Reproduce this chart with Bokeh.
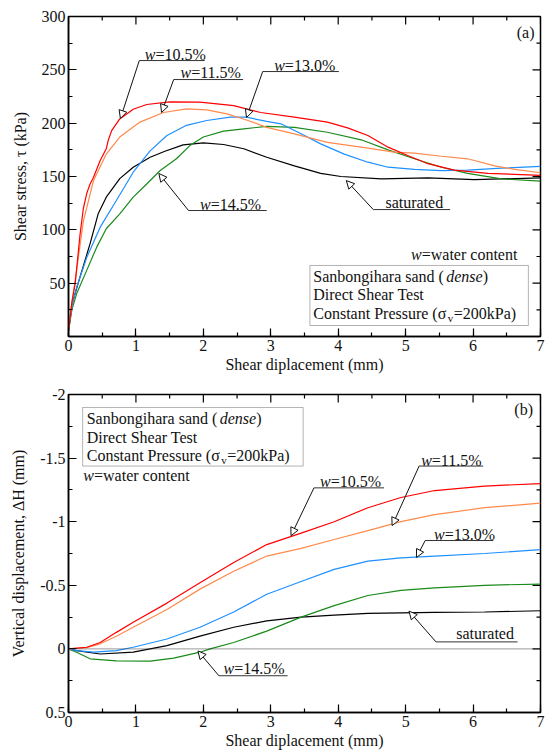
import numpy as np
from bokeh.plotting import figure
from bokeh.models import (Range1d, SingleIntervalTicker, CustomJSTickFormatter,
                          Label, Arrow, NormalHead, BoxAnnotation, Span)
from bokeh.layouts import column
from bokeh.embed import file_html
from bokeh.resources import INLINE

FONT = "Liberation Serif"
FS = "16px"

# ---------------- data: (a) shear stress vs shear displacement ----------------
a_x_105 = [0, 0.05, 0.10, 0.17, 0.22, 0.27, 0.32, 0.37, 0.47, 0.56, 0.59, 0.64, 0.76, 0.96, 1.16, 1.5,
           1.95, 2.45, 2.85, 3.35, 3.84, 4.14, 4.44, 4.74, 5.03, 5.33, 5.72, 6.22, 7.0]
a_y_105 = [5, 32, 50, 95, 120, 134, 143, 149, 165, 176, 184, 193, 204, 213, 217.5, 220,
           219.7, 216.5, 210, 205.6, 201, 195.6, 188.4, 177.5, 169.7, 162, 156, 153, 151]

a_x_115 = [0, 0.05, 0.12, 0.22, 0.37, 0.56, 0.76, 1.06, 1.41, 1.75, 2.05, 2.35, 2.64, 2.94, 3.35,
           3.84, 4.34, 4.83, 5.13, 5.53, 5.92, 6.32, 6.62, 7.0]
a_y_115 = [5, 32, 62, 108, 146, 171, 187, 201, 210, 213.4, 212.5, 208.7, 203, 196, 190,
           182, 177.5, 172.8, 172, 169, 166.6, 160, 156.6, 153.5]

a_x_130 = [0, 0.05, 0.12, 0.27, 0.47, 0.71, 0.96, 1.21, 1.46, 1.75, 2.05, 2.4, 2.64, 2.94, 3.15,
           3.45, 3.74, 4.09, 4.44, 4.74, 5.13, 5.53, 5.92, 6.42, 7.0]
a_y_130 = [5, 28, 46, 74, 102.5, 127.5, 154, 174, 188.4, 198, 202.5, 205.6, 205.6, 201.6, 199.4,
           190, 180.6, 171, 163.4, 158.7, 156.6, 155.6, 156, 157.8, 159.4]

a_x_145 = [0, 0.05, 0.12, 0.27, 0.42, 0.56, 0.76, 0.96, 1.16, 1.36, 1.6, 1.8, 2.0, 2.3, 2.6, 2.94,
           3.35, 3.84, 4.34, 4.74, 5.13, 5.53, 5.92, 6.42, 7.0]
a_y_145 = [5, 25, 40, 62, 84, 101, 115, 130.6, 143, 155.6, 166.6, 179, 187, 192.5, 194.7, 197,
           196, 191.5, 184.4, 175, 166.6, 158.7, 153, 147.8, 145.6]

a_x_sat = [0, 0.05, 0.17, 0.32, 0.44, 0.56, 0.76, 0.96, 1.21, 1.43, 1.7, 2.0, 2.3, 2.6, 2.94,
           3.35, 3.74, 4.04, 4.64, 5.33, 6.02, 7.0]
a_y_sat = [5, 30, 55.6, 87, 115, 130.6, 148, 158.7, 168, 173.7, 179.7, 181.6, 180, 176, 168,
           160, 153, 150, 147.8, 148.7, 147, 148.7]

# ---------------- data: (b) vertical displacement vs shear displacement ----------------
b_x_105 = [0, 0.27, 0.47, 0.71, 0.96, 1.46, 1.95, 2.45, 2.94, 3.45, 3.94, 4.44, 4.93, 5.43, 6.17, 7.0]
b_y_105 = [0, -0.013, -0.05, -0.13, -0.21, -0.36, -0.52, -0.68, -0.82, -0.91, -1.0, -1.11, -1.19,
           -1.245, -1.28, -1.30]

b_x_115 = [0, 0.27, 0.47, 0.71, 0.96, 1.46, 1.95, 2.45, 2.94, 3.45, 3.94, 4.44, 4.93, 5.43, 6.17, 7.0]
b_y_115 = [0, -0.01, -0.04, -0.10, -0.17, -0.31, -0.47, -0.61, -0.73, -0.79, -0.86, -0.93, -1.0,
           -1.055, -1.11, -1.146]

b_x_130 = [0, 0.12, 0.37, 0.71, 0.96, 1.46, 1.95, 2.45, 2.94, 3.45, 3.94, 4.44, 4.93, 5.43, 6.17, 7.0]
b_y_130 = [0, 0.013, 0.026, 0.013, -0.013, -0.078, -0.17, -0.29, -0.43, -0.53, -0.625, -0.69,
           -0.716, -0.73, -0.75, -0.78]

b_x_145 = [0, 0.12, 0.32, 0.71, 1.21, 1.56, 1.95, 2.1, 2.45, 2.94, 3.45, 3.94, 4.44, 4.93, 5.43, 6.17, 7.0]
b_y_145 = [0, 0.026, 0.078, 0.094, 0.096, 0.073, 0.026, 0, -0.05, -0.14, -0.25, -0.34, -0.42,
           -0.46, -0.48, -0.5, -0.51]

b_x_sat = [0, 0.12, 0.47, 0.96, 1.46, 1.95, 2.45, 2.94, 3.45, 3.94, 4.44, 5.43, 6.17, 7.0]
b_y_sat = [0, 0.013, 0.04, 0.026, -0.026, -0.10, -0.17, -0.22, -0.25, -0.266, -0.28, -0.287, -0.29, -0.30]

COLORS = {"105": "#ff0000", "115": "#ff8a4c", "130": "#1e90ff", "145": "#1a8a1a", "sat": "#000000"}

X_TICKS = 1
Y_TICKS_A = 50
Y_TICKS_B = 0.5


def fmt(hide_zero=False):
    if hide_zero:
        return CustomJSTickFormatter(code="return tick == 0 ? '' : tick.toString();")
    return CustomJSTickFormatter(code="return tick.toString();")


def style_axis(ax, ticker, formatter):
    ax.ticker = ticker
    ax.formatter = formatter
    ax.major_tick_in = 8
    ax.major_tick_out = 0
    ax.minor_tick_in = 4
    ax.minor_tick_out = 0
    ax.axis_line_width = 1.5
    ax.major_tick_line_width = 1.2
    ax.minor_tick_line_width = 1.2
    ax.axis_line_color = "black"
    ax.major_tick_line_color = "black"
    ax.minor_tick_line_color = "black"
    ax.major_label_text_font = FONT
    ax.major_label_text_font_size = FS
    ax.major_label_text_color = "#111111"
    ax.major_label_standoff = 3
    ax.axis_label_text_font = FONT
    ax.axis_label_text_font_size = FS
    ax.axis_label_text_font_style = "normal"
    ax.axis_label_text_color = "#111111"


def mirror_ticks(p, x0, x1, xstep, y0, y1, ystep, x_edge, y_edge):
    # inward ticks on the top and right frame edges (markers are clipped to the frame)
    xs = np.arange(x0, x1 + 1e-9, xstep / 2)
    ys = np.arange(min(y0, y1), max(y0, y1) + 1e-9, ystep / 2)
    xmaj = np.isclose(np.mod(xs + 1e-9, xstep), 0, atol=1e-6)
    ymaj = np.isclose(np.mod(ys - min(y0, y1) + 1e-9, ystep), 0, atol=1e-6)
    for sel, size in [(xmaj, 16), (~xmaj, 8)]:
        p.scatter(xs[sel], np.full(sel.sum(), y_edge), marker="dash", angle=np.pi / 2, size=size,
                  line_color="black", line_width=1.2)
    for sel, size in [(ymaj, 16), (~ymaj, 8)]:
        p.scatter(np.full(sel.sum(), x_edge), ys[sel], marker="dash", angle=0, size=size,
                  line_color="black", line_width=1.2)


def make_fig(height, y_range, ystep, yfmt, top, bottom, ylabel):
    p = figure(width=548, height=height, x_range=Range1d(0, 7), y_range=y_range,
               output_backend="svg", toolbar_location=None,
               min_border_left=68, min_border_right=8, min_border_top=top, min_border_bottom=bottom)
    p.xgrid.visible = False
    p.ygrid.visible = False
    p.outline_line_color = "black"
    p.outline_line_width = 1.5
    style_axis(p.xaxis[0], SingleIntervalTicker(interval=X_TICKS, num_minor_ticks=2), fmt())
    style_axis(p.yaxis[0], SingleIntervalTicker(interval=ystep, num_minor_ticks=2), yfmt)
    p.xaxis[0].axis_label = "Shear diplacement (mm)"
    p.xaxis[0].axis_label_standoff = 2
    p.yaxis[0].axis_label = ylabel
    p.yaxis[0].axis_label_standoff = 10
    return p


def text(p, x, y, s, italic=False, dx=0, dy=0, size=FS, align="left"):
    p.add_layout(Label(x=x, y=y, text=s, x_offset=dx, y_offset=dy, text_font=FONT,
                       text_font_size=size, text_font_style="italic" if italic else "normal",
                       text_baseline="middle", text_align=align, text_color="#111111"))


def pointer(p, ux0, ux1, uy, ax, ay):
    p.segment(x0=[ux0], y0=[uy], x1=[ux1], y1=[uy], line_color="#333333", line_width=1)
    p.add_layout(Arrow(x_start=ux0, y_start=uy, x_end=ax, y_end=ay, line_width=1, line_color="#111111",
                       end=NormalHead(size=8, fill_color="white", line_color="#111111", line_width=1)))


def wlabel(p, tx, ty, rest, ux0, ux1, uy, ax, ay):
    text(p, tx, ty, "w", italic=True)
    text(p, tx, ty, "=" + rest, dx=10.7)
    pointer(p, ux0, ux1, uy, ax, ay)


def plain_label(p, tx, ty, s, ux0, ux1, uy, ax, ay):
    text(p, tx, ty, s)
    pointer(p, ux0, ux1, uy, ax, ay)


def info_box(p, bx0, bx1, by0, by1, tx, ys):
    p.add_layout(BoxAnnotation(left=bx0, right=bx1, bottom=by0, top=by1, fill_alpha=0,
                               line_color="black", line_width=1))
    text(p, tx, ys[0], "Sanbongihara sand (")
    text(p, tx, ys[0], "dense", italic=True, dx=133.0)
    text(p, tx, ys[0], ")", dx=169.5)
    text(p, tx, ys[1], "Direct Shear Test")
    text(p, tx, ys[2], "Constant Pressure (\u03c3")
    text(p, tx, ys[2], "v", dx=134.5, dy=-5, size="11px")
    text(p, tx, ys[2], "=200kPa)", dx=140.5)


# ---------------- figure (a) ----------------
p1 = make_fig(380, Range1d(0, 300), Y_TICKS_A, fmt(hide_zero=True), 16, 44, "Shear stress, \u03c4 (kPa)")
mirror_ticks(p1, 0, 7, X_TICKS, 0, 300, Y_TICKS_A, 7, 300)
for key, xs, ys in [("sat", a_x_sat, a_y_sat), ("145", a_x_145, a_y_145), ("130", a_x_130, a_y_130),
                    ("115", a_x_115, a_y_115), ("105", a_x_105, a_y_105)]:
    p1.line(xs, ys, line_color=COLORS[key], line_width=1.2)

text(p1, 6.78, 285, "(a)", align="center")
wlabel(p1, 1.13, 264.4, "10.5%", 1.05, 2.02, 258.7, 0.77, 204.4)
wlabel(p1, 1.66, 247.5, "11.5%", 1.56, 2.59, 240.9, 1.38, 210.0)
wlabel(p1, 3.05, 254.0, "13.0%", 2.88, 4.01, 248.4, 2.64, 205.3)
wlabel(p1, 1.95, 123.7, "14.5%", 1.78, 2.94, 118.1, 1.34, 152.8)
plain_label(p1, 4.70, 125.6, "saturated", 4.52, 5.66, 119.0, 4.12, 146.2)
text(p1, 5.08, 76.9, "w", italic=True)
text(p1, 5.08, 76.9, "=water content", dx=10.7)
info_box(p1, 3.58, 6.82, 10.3, 66.6, 3.63, [56.2, 39.4, 21.6])

# ---------------- figure (b) ----------------
p2 = make_fig(371, Range1d(0.5, -2), Y_TICKS_B, fmt(), 14, 37, "Vertical displacement, \u0394H (mm)")
mirror_ticks(p2, 0, 7, X_TICKS, -2, 0.5, Y_TICKS_B, 7, -2)
p2.add_layout(Span(location=0, dimension="width", line_color="#333333", line_width=1, line_dash="1 1"))
for key, xs, ys in [("sat", b_x_sat, b_y_sat), ("145", b_x_145, b_y_145), ("130", b_x_130, b_y_130),
                    ("115", b_x_115, b_y_115), ("105", b_x_105, b_y_105)]:
    p2.line(xs, ys, line_color=COLORS[key], line_width=1.2)

text(p2, 6.75, -1.883, "(b)", align="center")
info_box(p2, 0.21, 3.48, -1.4375, -1.898, 0.27, [-1.8125, -1.664, -1.523])
text(p2, 0.22, -1.36, "w", italic=True)
text(p2, 0.22, -1.36, "=water content", dx=10.7)
wlabel(p2, 3.73, -1.3125, "10.5%", 3.64, 4.68, -1.266, 3.30, -0.89)
wlabel(p2, 5.23, -1.484, "11.5%", 5.20, 6.15, -1.4375, 4.80, -0.969)
wlabel(p2, 5.42, -0.898, "13.0%", 5.29, 6.30, -0.852, 5.16, -0.719)
wlabel(p2, 2.30, 0.156, "14.5%", 2.23, 3.25, 0.211, 1.92, 0.016)
plain_label(p2, 5.75, -0.125, "saturated", 5.45, 6.66, -0.055, 5.05, -0.297)

layout = column(p1, p2)
open("out.html", "w").write(file_html(layout, INLINE))
